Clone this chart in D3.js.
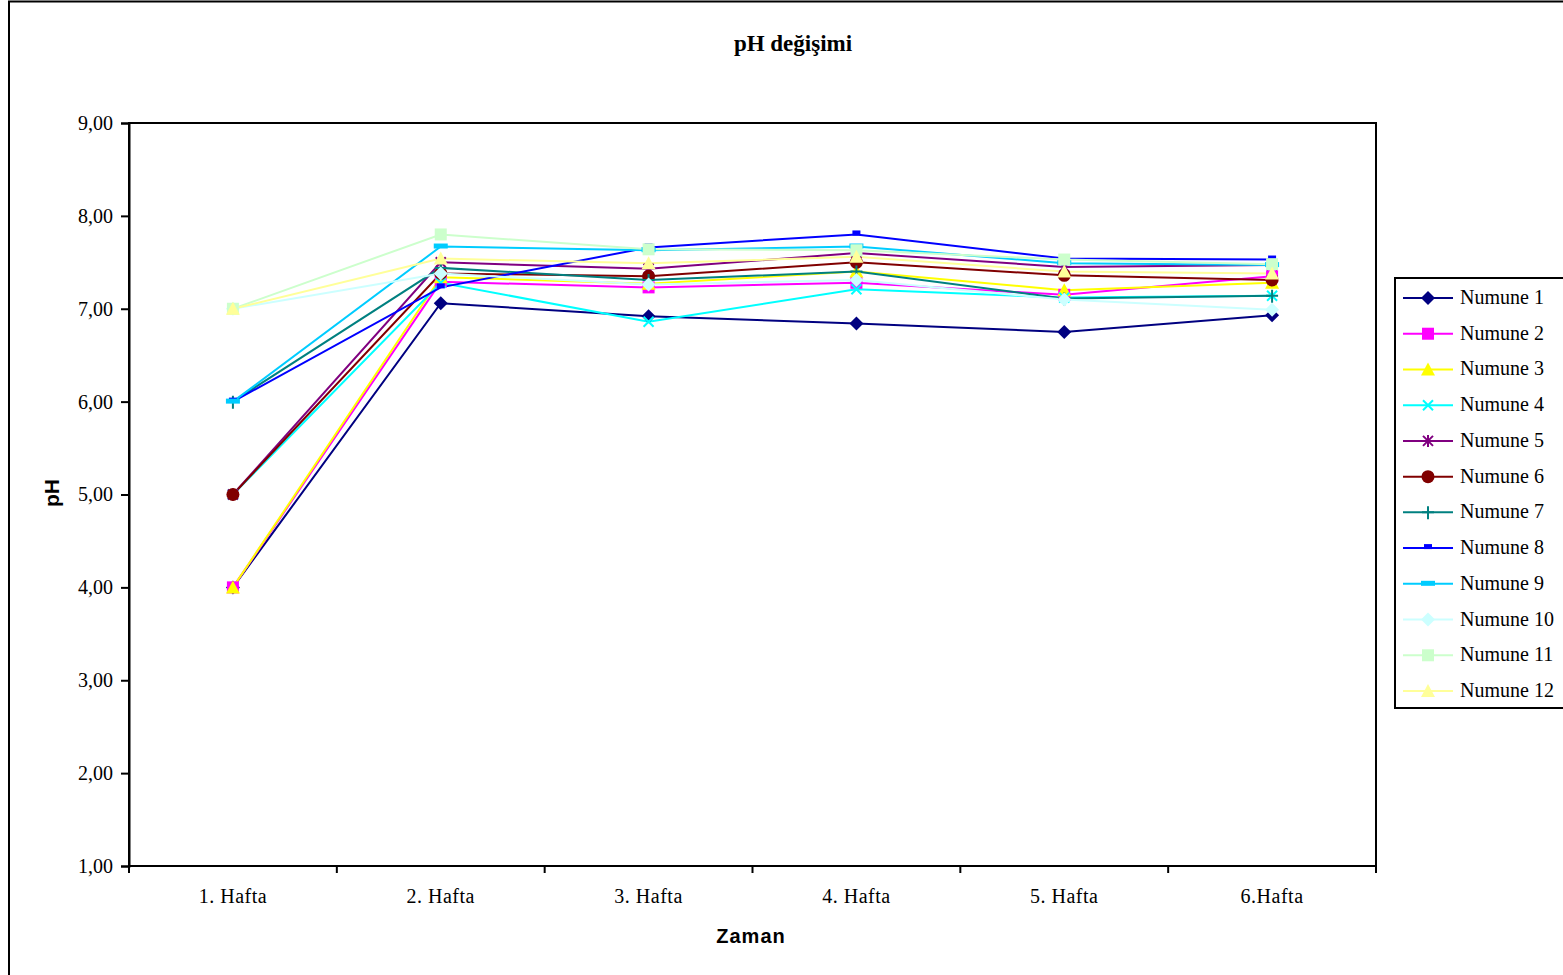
<!DOCTYPE html>
<html>
<head>
<meta charset="utf-8">
<script src="https://cdn.jsdelivr.net/npm/d3@7"></script>
<style>
  html, body { margin: 0; padding: 0; background: #fff; }
  svg { display: block; }
</style>
</head>
<body>
<svg id="chart" width="1563" height="975"></svg>
<script>
// Weeks on the x axis
const weeks = ["1. Hafta", "2. Hafta", "3. Hafta", "4. Hafta", "5. Hafta", "6.Hafta"];
// y axis ticks
const yTicks = [1, 2, 3, 4, 5, 6, 7, 8, 9];

// pH readings of each sample, one value per week
const numune1  = [4.00, 7.06, 6.92, 6.84, 6.75, 6.93];
const numune2  = [4.00, 7.29, 7.23, 7.28, 7.15, 7.35];
const numune3  = [4.00, 7.34, 7.27, 7.40, 7.20, 7.28];
const numune4  = [5.00, 7.28, 6.86, 7.21, 7.12, 7.14];
const numune5  = [5.00, 7.50, 7.43, 7.60, 7.45, 7.47];
const numune6  = [5.00, 7.38, 7.35, 7.50, 7.36, 7.31];
const numune7  = [6.00, 7.44, 7.31, 7.40, 7.11, 7.14];
const numune8  = [6.00, 7.23, 7.66, 7.80, 7.54, 7.53];
const numune9  = [6.00, 7.67, 7.63, 7.67, 7.49, 7.47];
const numune10 = [7.00, 7.38, 7.26, 7.31, 7.10, 6.99];
const numune11 = [7.00, 7.80, 7.64, 7.63, 7.53, 7.48];
const numune12 = [7.00, 7.54, 7.49, 7.56, 7.40, 7.38];

const seriesNames = ["Numune 1", "Numune 2", "Numune 3", "Numune 4", "Numune 5", "Numune 6",
                     "Numune 7", "Numune 8", "Numune 9", "Numune 10", "Numune 11", "Numune 12"];
const seriesValues = [numune1, numune2, numune3, numune4, numune5, numune6,
                      numune7, numune8, numune9, numune10, numune11, numune12];
const seriesColors = ["#000080", "#FF00FF", "#FFFF00", "#00FFFF", "#800080", "#800000",
                      "#008080", "#0000FF", "#00CCFF", "#CCFFFF", "#CCFFCC", "#FFFF99"];
const seriesMarkers = ["diamond", "square", "triangle", "x", "star", "circle",
                       "plus", "dash", "bar", "diamond", "square", "triangle"];

const series = seriesNames.map((name, i) => ({
  name, values: seriesValues[i], color: seriesColors[i], marker: seriesMarkers[i]
}));

const SERIF = "'Liberation Serif', 'Times New Roman', serif";
const SANS = "'Liberation Sans', Arial, sans-serif";

const svg = d3.select("#chart");

// outer chart frame
svg.append("rect")
  .attr("x", 9).attr("y", 1.5).attr("width", 1600).attr("height", 1000)
  .attr("fill", "none").attr("stroke", "#000").attr("stroke-width", 2);

const plot = { left: 129, top: 123, right: 1376, bottom: 866 };

const x = d3.scaleBand().domain(weeks).range([plot.left, plot.right]).padding(0);
const y = d3.scaleLinear().domain([1, 9]).range([plot.bottom, plot.top]);
const cx = d => x(d) + x.bandwidth() / 2;

// plot area frame
svg.append("rect")
  .attr("x", plot.left).attr("y", plot.top)
  .attr("width", plot.right - plot.left).attr("height", plot.bottom - plot.top)
  .attr("fill", "none").attr("stroke", "#000").attr("stroke-width", 2);

// y axis
const yAxis = svg.append("g")
  .attr("transform", `translate(${plot.left},0)`)
  .call(d3.axisLeft(y).tickValues(yTicks).tickSize(8).tickPadding(8)
    .tickFormat(d => d3.format(".2f")(d).replace(".", ",")));
yAxis.select(".domain").attr("stroke-width", 2);
yAxis.selectAll(".tick line").attr("stroke-width", 2);
yAxis.selectAll("text").attr("font-size", 20).attr("fill", "#000")
  .style("font-family", SERIF);

// x axis: labels centred in each week, ticks at week boundaries
const xAxis = svg.append("g").attr("transform", `translate(0,${plot.bottom})`);
xAxis.append("line")
  .attr("x1", plot.left).attr("x2", plot.right)
  .attr("stroke", "#000").attr("stroke-width", 2);
const bounds = weeks.map(w => x(w)).concat([x.range()[1]]);
xAxis.selectAll("line.tick").data(bounds).join("line")
  .attr("class", "tick")
  .attr("x1", d => d).attr("x2", d => d).attr("y1", 0).attr("y2", 7)
  .attr("stroke", "#000").attr("stroke-width", 2);
xAxis.selectAll("text").data(weeks).join("text")
  .attr("x", d => cx(d)).attr("y", 37)
  .attr("text-anchor", "middle")
  .style("font-family", SERIF).attr("font-size", 20)
  .style("letter-spacing", "0.5px")
  .text(d => d);

// title and axis titles
svg.append("text")
  .attr("x", 793).attr("y", 51).attr("text-anchor", "middle")
  .style("font-family", SERIF).attr("font-size", 23).attr("font-weight", "bold")
  .text("pH değişimi");
svg.append("text")
  .attr("transform", "translate(59,493) rotate(-90)").attr("text-anchor", "middle")
  .style("font-family", SANS).attr("font-size", 21).attr("font-weight", "bold")
  .text("pH");
svg.append("text")
  .attr("x", 751).attr("y", 943).attr("text-anchor", "middle")
  .style("font-family", SANS).attr("font-size", 20).attr("font-weight", "bold")
  .style("letter-spacing", "1px")
  .text("Zaman");

// marker drawing
function drawMarker(g, type, color) {
  switch (type) {
    case "diamond":
      g.append("path").attr("d", "M0,-7L7,0L0,7L-7,0Z").attr("fill", color);
      break;
    case "square":
      g.append("rect").attr("x", -6).attr("y", -6).attr("width", 12).attr("height", 12).attr("fill", color);
      break;
    case "triangle":
      g.append("path").attr("d", "M0,-7L7,6L-7,6Z").attr("fill", color);
      break;
    case "circle":
      g.append("circle").attr("r", 6.5).attr("fill", color);
      break;
    case "x":
      g.append("path").attr("d", "M-5,-5L5,5M-5,5L5,-5").attr("stroke", color).attr("stroke-width", 2).attr("fill", "none");
      break;
    case "star":
      g.append("path").attr("d", "M-5,-5L5,5M-5,5L5,-5M0,-6L0,6").attr("stroke", color).attr("stroke-width", 2).attr("fill", "none");
      break;
    case "plus":
      g.append("path").attr("d", "M-6,0L6,0M0,-6L0,7").attr("stroke", color).attr("stroke-width", 2).attr("fill", "none");
      break;
    case "dash":
      g.append("rect").attr("x", -4).attr("y", -4).attr("width", 8).attr("height", 5).attr("fill", color);
      break;
    case "bar":
      g.append("rect").attr("x", -7).attr("y", -3).attr("width", 14).attr("height", 5).attr("fill", color);
      break;
  }
}

// series lines and markers
const line = d3.line().x((d, i) => cx(weeks[i])).y(d => y(d));
const seriesG = svg.append("g");
series.forEach(s => {
  seriesG.append("path")
    .attr("d", line(s.values))
    .attr("fill", "none").attr("stroke", s.color).attr("stroke-width", 2);
});
series.forEach(s => {
  s.values.forEach((v, i) => {
    const g = seriesG.append("g").attr("transform", `translate(${cx(weeks[i])},${y(v)})`);
    drawMarker(g, s.marker, s.color);
  });
});

// legend
const legend = svg.append("g");
legend.append("rect")
  .attr("x", 1395).attr("y", 278).attr("width", 200).attr("height", 430)
  .attr("fill", "#fff").attr("stroke", "#000").attr("stroke-width", 2);
const rowY = d3.scalePoint().domain(seriesNames).range([298, 691]);
series.forEach(s => {
  const ly = rowY(s.name);
  legend.append("line")
    .attr("x1", 1403).attr("x2", 1453).attr("y1", ly).attr("y2", ly)
    .attr("stroke", s.color).attr("stroke-width", 2);
  drawMarker(legend.append("g").attr("transform", `translate(1428,${ly})`), s.marker, s.color);
  legend.append("text")
    .attr("x", 1460).attr("y", ly + 6)
    .style("font-family", SERIF).attr("font-size", 20)
    .text(s.name);
});
</script>
</body>
</html>
